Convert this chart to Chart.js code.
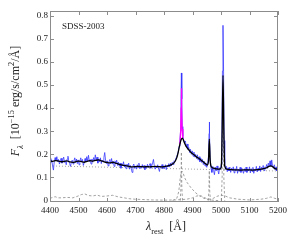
<!DOCTYPE html>
<html>
<head>
<meta charset="utf-8">
<script src="https://cdn.jsdelivr.net/npm/chart.js@4/dist/chart.umd.min.js"></script>
<style>
  html, body { margin: 0; padding: 0; background: #fff; }
  canvas { display: block; }
</style>
</head>
<body>
<canvas id="spec" width="294" height="240"></canvas>
<script>
  const xTicks = [4400, 4500, 4600, 4700, 4800, 4900, 5000, 5100, 5200];
  const yTicks = [0, 0.1, 0.2, 0.3, 0.4, 0.5, 0.6, 0.7, 0.8];
  const label = 'SDSS-2003';

  // observed spectrum [wavelength, flux]
  const observed = [
    [4400,.182],[4403,.165],[4406,.176],[4409,.150],[4412,.132],[4415,.168],[4418,.186],[4421,.172],
    [4424,.190],[4427,.168],[4430,.178],[4433,.158],[4436,.172],[4439,.183],[4442,.162],[4445,.176],
    [4448,.188],[4451,.165],[4454,.172],[4457,.155],[4460,.180],[4463,.192],[4466,.170],[4469,.160],
    [4472,.148],[4475,.168],[4478,.175],[4481,.158],[4484,.172],[4487,.185],[4490,.165],[4493,.180],
    [4496,.160],[4499,.176],[4502,.155],[4505,.172],[4508,.185],[4511,.168],[4514,.178],[4517,.152],
    [4520,.165],[4523,.182],[4526,.170],[4529,.190],[4532,.172],[4535,.196],[4538,.168],[4541,.178],
    [4544,.158],[4547,.180],[4550,.166],[4553,.186],[4556,.172],[4559,.198],[4562,.175],[4565,.188],
    [4568,.162],[4571,.180],[4574,.168],[4577,.185],[4580,.160],[4583,.175],[4586,.168],[4589,.186],
    [4592,.208],[4595,.175],[4598,.160],[4601,.172],[4604,.150],[4607,.168],[4610,.178],[4613,.160],
    [4616,.182],[4619,.158],[4622,.170],[4625,.148],[4628,.172],[4631,.160],[4634,.175],[4637,.152],
    [4640,.166],[4643,.148],[4646,.162],[4649,.140],[4652,.160],[4655,.150],[4658,.168],[4661,.145],
    [4664,.156],[4667,.138],[4670,.158],[4673,.146],[4676,.162],[4679,.136],[4682,.152],[4685,.140],
    [4688,.122],[4691,.150],[4694,.158],[4697,.140],[4700,.150],[4703,.136],[4706,.155],[4709,.143],
    [4712,.162],[4715,.138],[4718,.150],[4721,.140],[4724,.156],[4727,.142],[4730,.152],[4733,.134],
    [4736,.150],[4739,.140],[4742,.157],[4745,.144],[4748,.152],[4751,.160],[4754,.140],[4757,.150],
    [4760,.162],[4763,.178],[4766,.150],[4769,.136],[4772,.148],[4775,.142],[4778,.155],[4781,.138],
    [4784,.126],[4787,.150],[4790,.142],[4793,.156],[4796,.138],[4799,.150],[4802,.140],[4805,.155],
    [4808,.134],[4811,.152],[4814,.146],[4817,.160],[4820,.145],[4823,.162],[4826,.150],[4829,.166],
    [4832,.156],[4835,.172],[4838,.168],[4841,.180],[4844,.188],[4847,.200],[4850,.212],[4853,.235],
    [4856,.262],[4858,.300],[4859.5,.440],[4861,.552],[4862.5,.440],[4864,.320],[4866,.280],[4869,.262],
    [4872,.250],[4875,.258],[4878,.232],[4881,.245],[4884,.222],[4887,.230],[4890,.208],[4893,.222],
    [4896,.200],[4899,.215],[4902,.192],[4905,.210],[4908,.188],[4911,.200],[4914,.182],[4917,.198],
    [4920,.175],[4923,.190],[4926,.168],[4929,.184],[4932,.165],[4935,.178],[4938,.156],[4941,.170],
    [4944,.150],[4947,.163],[4950,.144],[4953,.160],[4956,.190],[4958,.290],[4959,.340],[4960,.290],
    [4962,.180],[4965,.140],[4968,.122],[4971,.148],[4974,.130],[4977,.112],[4980,.145],[4983,.128],
    [4986,.150],[4989,.132],[4992,.115],[4995,.142],[4998,.135],[5001,.160],[5003,.260],[5005,.560],
    [5007,.758],[5009,.560],[5011,.260],[5013,.160],[5016,.135],[5019,.148],[5022,.125],[5025,.142],
    [5028,.128],[5031,.145],[5034,.122],[5037,.140],[5040,.130],[5043,.146],[5046,.120],[5049,.138],
    [5052,.128],[5055,.148],[5058,.118],[5061,.136],[5064,.126],[5067,.144],[5070,.122],[5073,.140],
    [5076,.130],[5079,.118],[5082,.138],[5085,.125],[5088,.145],[5091,.122],[5094,.136],[5097,.128],
    [5100,.146],[5103,.120],[5106,.138],[5109,.126],[5112,.144],[5115,.118],[5118,.135],[5121,.128],
    [5124,.148],[5127,.124],[5130,.140],[5133,.130],[5136,.150],[5139,.126],[5142,.144],[5145,.134],
    [5148,.152],[5151,.130],[5154,.146],[5157,.138],[5160,.156],[5163,.140],[5166,.162],[5169,.150],
    [5172,.172],[5175,.148],[5178,.176],[5181,.150],[5184,.140],[5187,.155],[5190,.132],[5193,.146],
    [5196,.128],[5199,.140],[5200,.136]
  ];

  // total model fit
  const model = [
    [4400,.172],[4410,.170],[4420,.173],[4430,.171],[4440,.168],[4450,.170],[4460,.172],[4470,.167],
    [4480,.165],[4490,.168],[4500,.171],[4510,.169],[4520,.166],[4530,.170],[4540,.173],[4550,.171],
    [4560,.174],[4570,.176],[4580,.172],[4590,.168],[4600,.165],[4610,.163],[4620,.166],[4630,.162],
    [4640,.158],[4650,.155],[4660,.152],[4670,.150],[4680,.147],[4690,.146],[4700,.147],[4710,.148],
    [4720,.147],[4730,.146],[4740,.147],[4750,.146],[4760,.147],[4770,.148],[4780,.147],[4790,.146],
    [4800,.147],[4810,.149],[4820,.152],[4830,.158],[4838,.168],[4845,.186],[4850,.210],[4855,.240],
    [4860,.263],[4864,.270],[4868,.262],[4873,.246],[4880,.230],[4887,.220],[4895,.208],[4905,.198],
    [4915,.188],[4925,.180],[4935,.170],[4945,.160],[4952,.154],[4956,.170],[4959,.266],[4962,.175],
    [4966,.146],[4975,.140],[4985,.137],[4995,.136],[5001,.145],[5004,.300],[5007,.542],[5010,.300],
    [5013,.150],[5020,.136],[5035,.134],[5050,.133],[5070,.132],[5090,.133],[5110,.132],[5130,.134],
    [5150,.138],[5160,.142],[5168,.148],[5175,.150],[5182,.146],[5190,.138],[5200,.136]
  ];

  // model including narrow H-beta
  const narrowModel = [[4856,.245],[4858.5,.300],[4860,.400],[4861,.486],[4862,.400],[4863.5,.310],[4866,.268]];

  const powerLaw = [[4400,.150],[5200,.128]];

  const feII = [
    [4400,.010],[4410,.014],[4418,.017],[4428,.012],[4440,.012],[4460,.014],[4480,.012],[4495,.018],
    [4510,.026],[4522,.029],[4535,.022],[4550,.020],[4565,.024],[4580,.018],[4600,.020],[4620,.023],
    [4640,.016],[4660,.012],[4680,.008],[4700,.006],[4720,.005],[4740,.004],[4760,.003],[4800,.002],
    [4840,.003],[4880,.006],[4900,.012],[4915,.020],[4928,.022],[4940,.014],[4955,.006],[4970,.008],
    [4985,.018],[5000,.024],[5015,.020],[5030,.012],[5060,.006],[5100,.003],[5140,.006],[5160,.010],
    [5175,.016],[5188,.010],[5200,.006]
  ];

  const broadHb = [
    [4830,0],[4845,.010],[4852,.040],[4857,.100],[4862,.128],[4867,.120],[4872,.100],[4880,.080],
    [4895,.055],[4910,.035],[4925,.020],[4940,.010],[4960,.003],[4990,0]
  ];
  const narrowHb = [[4857,0],[4859.5,.06],[4861,.21],[4862.5,.06],[4865,0]];
  const oiii4959 = [[4955,0],[4957.5,.04],[4959,.13],[4960.5,.04],[4963,0]];
  const oiii5007 = [[5001,0],[5004,.10],[5007,.41],[5010,.10],[5013,0]];

  const toXY = (arr) => arr.map(p => ({ x: p[0], y: p[1] }));
  const SERIF = "'Liberation Serif', 'DejaVu Serif', serif";

  function comp(data, dash) {
    return {
      data: toXY(data),
      borderColor: '#8a8a8a',
      borderWidth: 0.8,
      borderDash: dash || [2.5, 2],
      pointRadius: 0,
      tension: 0
    };
  }

  // draw a run of text pieces (italic / sub / sup) centred on 0,0
  function drawRich(ctx, parts, size) {
    const small = size * 0.7;
    const fontOf = (p) => (p.it ? 'italic ' : '') + (p.sub || p.sup ? small : size) + 'px ' + SERIF;
    let total = 0;
    for (const p of parts) {
      ctx.font = fontOf(p);
      p.w = ctx.measureText(p.t).width;
      total += p.w;
    }
    let x = -total / 2;
    ctx.textBaseline = 'alphabetic';
    ctx.textAlign = 'left';
    for (const p of parts) {
      ctx.font = fontOf(p);
      const dy = p.sub ? size * 0.28 : p.sup ? -size * 0.42 : 0;
      ctx.fillText(p.t, x, size * 0.35 + dy);
      x += p.w;
    }
  }

  const framePlugin = {
    id: 'frame',
    afterDraw(chart) {
      const { ctx, chartArea: a, scales } = chart;
      ctx.save();
      ctx.strokeStyle = '#8c8c8c';
      ctx.lineWidth = 1;
      ctx.strokeRect(a.left + 0.5, a.top + 0.5, a.right - a.left - 1, a.bottom - a.top - 1);
      ctx.beginPath();
      for (const v of xTicks) {
        const px = Math.round(scales.x.getPixelForValue(v)) + 0.5;
        ctx.moveTo(px, a.bottom); ctx.lineTo(px, a.bottom - 4);
        ctx.moveTo(px, a.top); ctx.lineTo(px, a.top + 4);
      }
      for (const v of yTicks) {
        const py = Math.round(scales.y.getPixelForValue(v)) + 0.5;
        ctx.moveTo(a.left, py); ctx.lineTo(a.left + 4, py);
        ctx.moveTo(a.right, py); ctx.lineTo(a.right - 4, py);
      }
      ctx.stroke();

      ctx.fillStyle = '#222';
      ctx.font = '9px ' + SERIF;
      ctx.textAlign = 'left';
      ctx.textBaseline = 'middle';
      ctx.fillText(label, 62, 27);

      // x title
      ctx.save();
      ctx.translate((a.left + a.right) / 2 + 2, 226);
      drawRich(ctx, [
        { t: 'λ', it: true }, { t: 'rest', sub: true }, { t: '  [Å]' }
      ], 12);
      ctx.restore();

      // y title
      ctx.save();
      ctx.translate(15, 101);
      ctx.rotate(-Math.PI / 2);
      drawRich(ctx, [
        { t: 'F', it: true }, { t: 'λ', it: true, sub: true }, { t: '  [10' },
        { t: '−15', sup: true }, { t: ' erg/s/cm' }, { t: '2', sup: true }, { t: '/Å]' }
      ], 12);
      ctx.restore();
      ctx.restore();
    }
  };

  new Chart(document.getElementById('spec'), {
    type: 'line',
    data: {
      datasets: [
        { data: toXY(model), borderColor: '#000', borderWidth: 1.3, pointRadius: 0, cubicInterpolationMode: 'monotone' },
        { data: toXY(narrowModel), borderColor: '#ff00ff', borderWidth: 1.3, pointRadius: 0, tension: 0 },
        { data: toXY(observed), borderColor: 'rgba(50,50,255,0.85)', borderWidth: 0.9, pointRadius: 0, tension: 0 },
        comp(powerLaw, [1, 2]),
        comp(broadHb),
        comp(narrowHb),
        comp(oiii4959),
        comp(oiii5007),
        comp(feII)
      ]
    },
    options: {
      responsive: false,
      devicePixelRatio: 1,
      animation: false,
      layout: { padding: { top: 11, right: 16, left: 0, bottom: 0 } },
      plugins: { legend: { display: false }, tooltip: { enabled: false } },
      scales: {
        x: {
          type: 'linear',
          min: 4400,
          max: 5200,
          afterBuildTicks: (s) => { s.ticks = xTicks.map(v => ({ value: v })); },
          afterFit: (s) => { s.height = 38; },
          grid: { display: false, drawTicks: false },
          border: { display: false },
          ticks: {
            color: '#222', font: { family: SERIF, size: 9 }, padding: 3, maxRotation: 0, autoSkip: false,
            callback: (v) => String(v)
          }
        },
        y: {
          type: 'linear',
          min: -0.006,
          max: 0.82,
          afterBuildTicks: (s) => { s.ticks = yTicks.map(v => ({ value: v })); },
          afterFit: (s) => { s.width = 50; },
          grid: { display: false, drawTicks: false },
          border: { display: false },
          ticks: {
            color: '#222', font: { family: SERIF, size: 9 }, padding: 2, autoSkip: false,
            callback: (v) => (v === 0 ? '0' : v.toFixed(1))
          }
        }
      }
    },
    plugins: [framePlugin]
  });
</script>
</body>
</html>
